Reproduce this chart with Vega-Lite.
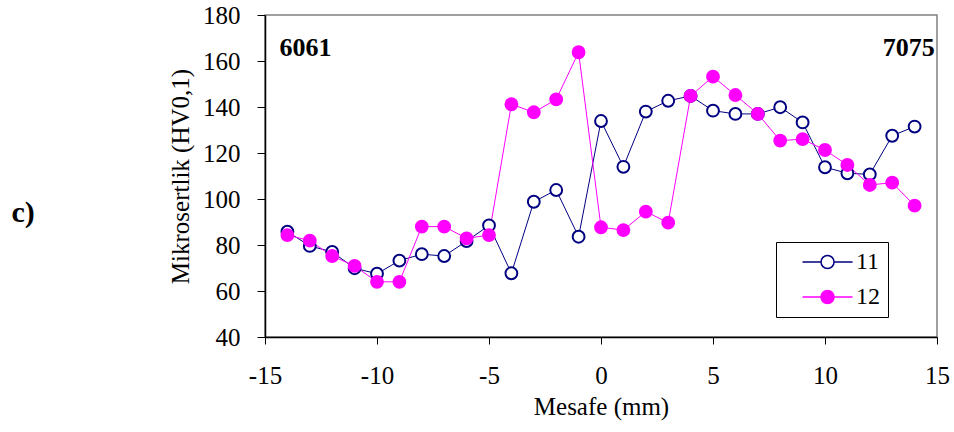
{
  "$schema": "https://vega.github.io/schema/vega-lite/v6.json",
  "width": 672,
  "height": 322,
  "autosize": {"type": "none"},
  "padding": {"left": 265, "top": 15, "right": 17, "bottom": 95},
  "background": "white",
  "config": {
    "view": {"stroke": "#808080", "strokeWidth": 1.5},
    "font": "Liberation Serif",
    "axis": {
      "labelFont": "Liberation Serif", "titleFont": "Liberation Serif",
      "labelFontSize": 25, "titleFontSize": 25, "titleFontWeight": "normal",
      "labelColor": "black", "titleColor": "black",
      "domainColor": "black", "tickColor": "black", "grid": false,
      "domainWidth": 1.5, "tickWidth": 1
    },
    "legend": {
      "orient": "none", "legendX": 511, "legendY": 227,
      "strokeColor": "black", "fillColor": "white", "padding": 8,
      "labelFont": "Liberation Serif", "labelFontSize": 24, "labelColor": "black",
      "labelOffset": 48, "symbolSize": 169, "rowPadding": 11,
      "symbolType": "M1,0H3.85M5.85,0H8.7M3.85,0A1,1 0 1,1 5.85,0A1,1 0 1,1 3.85,0Z",
      "symbolStrokeWidth": 1.5
    }
  },
  "datasets": {
    "pts": [
      {"x": -14, "y": 85.8, "series": "11"}, {"x": -13, "y": 79.6, "series": "11"},
      {"x": -12, "y": 77, "series": "11"}, {"x": -11, "y": 69.9, "series": "11"},
      {"x": -10, "y": 67.5, "series": "11"}, {"x": -9, "y": 73.2, "series": "11"},
      {"x": -8, "y": 76, "series": "11"}, {"x": -7, "y": 75.2, "series": "11"},
      {"x": -6, "y": 81.7, "series": "11"}, {"x": -5, "y": 88.5, "series": "11"},
      {"x": -4, "y": 67.7, "series": "11"}, {"x": -3, "y": 98.8, "series": "11"},
      {"x": -2, "y": 103.9, "series": "11"}, {"x": -1, "y": 83.6, "series": "11"},
      {"x": 0, "y": 133.9, "series": "11"}, {"x": 1, "y": 114, "series": "11"},
      {"x": 2, "y": 138, "series": "11"}, {"x": 3, "y": 142.7, "series": "11"},
      {"x": 4, "y": 144.8, "series": "11"}, {"x": 5, "y": 138.4, "series": "11"},
      {"x": 6, "y": 137, "series": "11"}, {"x": 7, "y": 137, "series": "11"},
      {"x": 8, "y": 139.9, "series": "11"}, {"x": 9, "y": 133.3, "series": "11"},
      {"x": 10, "y": 113.8, "series": "11"}, {"x": 11, "y": 111.2, "series": "11"},
      {"x": 12, "y": 110.7, "series": "11"}, {"x": 13, "y": 127.5, "series": "11"},
      {"x": 14, "y": 131.5, "series": "11"},
      {"x": -14, "y": 84.3, "series": "12"}, {"x": -13, "y": 81.9, "series": "12"},
      {"x": -12, "y": 75.2, "series": "12"}, {"x": -11, "y": 70.9, "series": "12"},
      {"x": -10, "y": 64, "series": "12"}, {"x": -9, "y": 64, "series": "12"},
      {"x": -8, "y": 88, "series": "12"}, {"x": -7, "y": 88, "series": "12"},
      {"x": -6, "y": 82.9, "series": "12"}, {"x": -5, "y": 84.3, "series": "12"},
      {"x": -4, "y": 141.2, "series": "12"}, {"x": -3, "y": 137.7, "series": "12"},
      {"x": -2, "y": 143.3, "series": "12"}, {"x": -1, "y": 163.8, "series": "12"},
      {"x": 0, "y": 87.7, "series": "12"}, {"x": 1, "y": 86.5, "series": "12"},
      {"x": 2, "y": 94.5, "series": "12"}, {"x": 3, "y": 89.7, "series": "12"},
      {"x": 4, "y": 144.8, "series": "12"}, {"x": 5, "y": 153.2, "series": "12"},
      {"x": 6, "y": 145.2, "series": "12"}, {"x": 7, "y": 137, "series": "12"},
      {"x": 8, "y": 125.4, "series": "12"}, {"x": 9, "y": 126, "series": "12"},
      {"x": 10, "y": 121.3, "series": "12"}, {"x": 11, "y": 114.8, "series": "12"},
      {"x": 12, "y": 106.1, "series": "12"}, {"x": 13, "y": 107.1, "series": "12"},
      {"x": 14, "y": 97.1, "series": "12"}
    ]
  },
  "layer": [
    {
      "data": {"name": "pts"},
      "mark": {"type": "line", "strokeWidth": 1},
      "encoding": {
        "x": {"field": "x", "type": "quantitative",
          "scale": {"domain": [-15, 15], "nice": false, "zero": false},
          "title": "Mesafe (mm)",
          "axis": {"orient": "bottom", "values": [-15, -10, -5, 0, 5, 10, 15], "tickSize": 7, "labelPadding": 19, "titlePadding": 6, "labelFlush": false, "labelExpr": "'' + datum.value"}},
        "y": {"field": "y", "type": "quantitative",
          "scale": {"domain": [40, 180], "nice": false, "zero": false},
          "title": "Mikrosertlik (HV0,1)",
          "axis": {"orient": "left", "values": [40, 60, 80, 100, 120, 140, 160, 180], "tickSize": 8, "labelPadding": 17, "titlePadding": 9, "labelFlush": false, "labelExpr": "'' + datum.value"}},
        "stroke": {"field": "series", "type": "nominal",
          "scale": {"domain": ["11", "12"], "range": ["#000080", "#ff00ff"]},
          "title": null,
          "legend": {"labelExpr": "datum.label + '\u00a0\u00a0'"}}
      }
    },
    {
      "data": {"name": "pts"},
      "mark": {"type": "point", "shape": "circle", "size": 140, "strokeWidth": 2, "opacity": 1},
      "encoding": {
        "x": {"field": "x", "type": "quantitative", "scale": {"domain": [-15, 15], "nice": false, "zero": false}, "axis": null},
        "y": {"field": "y", "type": "quantitative", "scale": {"domain": [40, 180], "nice": false, "zero": false}, "axis": null},
        "stroke": {"field": "series", "type": "nominal",
          "scale": {"domain": ["11", "12"], "range": ["#000080", "#ff00ff"]}, "title": null,
          "legend": {"labelExpr": "datum.label + '\u00a0\u00a0'"}},
        "fill": {"field": "series", "type": "nominal",
          "scale": {"domain": ["11", "12"], "range": ["#ffffff", "#ff00ff"]}, "title": null,
          "legend": {"labelExpr": "datum.label + '\u00a0\u00a0'"}}
      }
    },
    {
      "data": {"values": [{"x": -14.35, "y": 165.7, "t": "6061"}]},
      "mark": {"type": "text", "align": "left", "baseline": "middle", "font": "Liberation Serif", "fontSize": 26, "fontWeight": "bold", "color": "black"},
      "encoding": {
        "x": {"field": "x", "type": "quantitative", "scale": {"domain": [-15, 15], "nice": false, "zero": false}, "axis": null},
        "y": {"field": "y", "type": "quantitative", "scale": {"domain": [40, 180], "nice": false, "zero": false}, "axis": null},
        "text": {"field": "t"}
      }
    },
    {
      "data": {"values": [{"x": 14.9, "y": 165.7, "t": "7075"}]},
      "mark": {"type": "text", "align": "right", "baseline": "middle", "font": "Liberation Serif", "fontSize": 26, "fontWeight": "bold", "color": "black"},
      "encoding": {
        "x": {"field": "x", "type": "quantitative", "scale": {"domain": [-15, 15], "nice": false, "zero": false}, "axis": null},
        "y": {"field": "y", "type": "quantitative", "scale": {"domain": [40, 180], "nice": false, "zero": false}, "axis": null},
        "text": {"field": "t"}
      }
    },
    {
      "data": {"values": [{"x": -25.8, "y": 93.9, "t": "c)"}]},
      "mark": {"type": "text", "align": "center", "baseline": "middle", "font": "Liberation Serif", "fontSize": 30, "fontWeight": "bold", "color": "black"},
      "encoding": {
        "x": {"field": "x", "type": "quantitative", "scale": {"domain": [-15, 15], "nice": false, "zero": false}, "axis": null},
        "y": {"field": "y", "type": "quantitative", "scale": {"domain": [40, 180], "nice": false, "zero": false}, "axis": null},
        "text": {"field": "t"}
      }
    }
  ],
  "resolve": {"axis": {"x": "independent", "y": "independent"}}
}
